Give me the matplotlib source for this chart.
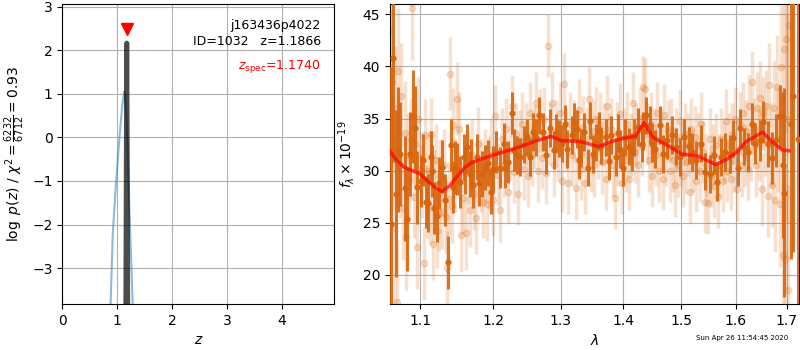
import numpy as np
import matplotlib
matplotlib.use('Agg')
import matplotlib.pyplot as plt

# Left panel: redshift fit
z_chi2 = [0.87, 0.919, 0.98, 1.04, 1.085, 1.11, 1.13, 1.15, 1.17, 1.20, 1.222, 1.26, 1.29]
logp_chi2 = [-4.2, -2.19, -1.01, 0.0, 0.64, 0.92, 1.06, 0.95, 0.4, -0.8, -1.66, -3.0, -4.2]
z_pz = [1.155, 1.165, 1.174, 1.183, 1.193]
logp_pz = [-4.5, -0.5, 2.17, -0.5, -4.5]
z_spec = 1.1740
z_mark_y = 2.5

# Right panel: spectrum, light (unbinned) points
wave_lo = [1.062, 1.064, 1.066, 1.068, 1.070, 1.072, 1.074, 1.076, 1.078, 1.080,
           1.082, 1.084, 1.086, 1.088, 1.090, 1.092, 1.094, 1.096, 1.098, 1.101,
           1.103, 1.105, 1.107, 1.109, 1.111, 1.113, 1.115, 1.117, 1.119, 1.121,
           1.123, 1.125, 1.127, 1.129, 1.132, 1.134, 1.136, 1.138, 1.140, 1.142,
           1.144, 1.146, 1.149, 1.152, 1.155, 1.158, 1.161, 1.164, 1.167, 1.170,
           1.173, 1.176, 1.179, 1.182, 1.185, 1.188, 1.191, 1.194, 1.197, 1.200,
           1.203, 1.206, 1.209, 1.212, 1.215, 1.218, 1.221, 1.224, 1.227, 1.230,
           1.233, 1.236, 1.239, 1.242, 1.245, 1.248, 1.251, 1.254, 1.257, 1.260,
           1.263, 1.266, 1.269, 1.272, 1.275, 1.278, 1.281, 1.284, 1.287, 1.290,
           1.293, 1.296, 1.299, 1.302, 1.305, 1.308, 1.311, 1.314, 1.317, 1.320,
           1.323, 1.326, 1.329, 1.332, 1.335, 1.338, 1.341, 1.344, 1.347, 1.350,
           1.353, 1.356, 1.359, 1.362, 1.365, 1.368, 1.371, 1.374, 1.377, 1.380,
           1.383, 1.386, 1.389, 1.392, 1.395, 1.398, 1.401, 1.404, 1.407, 1.410,
           1.413, 1.416, 1.419, 1.422, 1.425, 1.428, 1.431, 1.434, 1.437, 1.440,
           1.443, 1.446, 1.449, 1.452, 1.455, 1.458, 1.461, 1.464, 1.467, 1.470,
           1.473, 1.476, 1.479, 1.482, 1.485, 1.488, 1.491, 1.494, 1.497, 1.500,
           1.503, 1.506, 1.509, 1.512, 1.515, 1.518, 1.521, 1.524, 1.527, 1.530,
           1.533, 1.536, 1.539, 1.542, 1.545, 1.548, 1.551, 1.554, 1.557, 1.560,
           1.563, 1.566, 1.569, 1.572, 1.575, 1.578, 1.581, 1.584, 1.587, 1.590,
           1.593, 1.596, 1.599, 1.602, 1.605, 1.608, 1.611, 1.614, 1.617, 1.620,
           1.623, 1.626, 1.629, 1.632, 1.635, 1.638, 1.641, 1.644, 1.647, 1.650,
           1.653, 1.656, 1.659, 1.662, 1.665, 1.668, 1.671, 1.674, 1.677, 1.680,
           1.683, 1.686, 1.689, 1.692, 1.695, 1.697, 1.699, 1.701, 1.703, 1.705]
flux_lo = [43.5, 38.5, 24.5, 36.0, 17.4, 39.6, 30.5, 37.2, 26.4, 33.6,
           23.6, 31.5, 29.0, 33.0, 45.6, 27.5, 32.6, 22.7, 35.0, 30.2,
           29.0, 21.1, 33.4, 27.0, 30.0, 26.5, 33.5, 23.0, 28.5, 31.0,
           24.2, 25.8, 29.5, 26.0, 30.5, 25.6, 20.7, 27.3, 39.3, 26.6,
           34.4, 29.5, 36.9, 34.0, 23.8, 27.4, 24.0, 30.3, 26.2, 31.5,
           27.8, 25.5, 32.6, 29.5, 27.0, 30.5, 26.8, 29.8, 31.5, 27.2,
           35.2, 29.6, 26.2, 33.0, 30.5, 34.0, 28.0, 32.0, 36.2, 29.9,
           33.5, 27.8, 32.8, 34.5, 30.2, 33.5, 29.5, 35.5, 31.5, 33.2,
           36.5, 30.0, 34.8, 31.2, 35.0, 29.8, 42.0, 33.5, 36.5, 30.5,
           33.8, 32.0, 35.5, 29.0, 38.3, 33.0, 28.8, 34.5, 31.5, 33.8,
           28.3, 32.8, 35.8, 30.2, 34.2, 28.8, 33.0, 36.9, 31.0, 33.8,
           30.5, 35.0, 32.2, 34.5, 30.8, 33.5, 29.2, 36.2, 32.5, 34.0,
           30.5, 27.4, 33.6, 31.5, 35.4, 28.8, 33.0, 31.0, 34.5, 29.2,
           32.5, 36.5, 31.8, 33.5, 30.5, 35.0, 32.5, 38.0, 37.8, 33.5,
           31.0, 34.5, 29.5, 33.0, 31.5, 35.5, 30.0, 33.0, 29.2, 35.3,
           31.5, 33.8, 30.0, 34.0, 31.0, 28.6, 33.0, 30.5, 34.8, 31.5,
           29.5, 33.5, 30.8, 32.5, 28.0, 34.0, 31.0, 33.2, 29.0, 32.5,
           30.0, 34.5, 31.8, 27.0, 30.5, 26.9, 33.0, 29.5, 31.5, 28.5,
           32.5, 27.5, 30.5, 33.0, 29.0, 31.8, 34.8, 30.0, 32.5, 29.2,
           33.5, 31.0, 35.0, 28.2, 32.0, 34.5, 30.5, 35.5, 31.5, 33.8,
           30.2, 36.2, 32.0, 38.5, 34.0, 30.5, 36.0, 32.5, 37.0, 28.2,
           35.5, 33.0, 36.2, 27.6, 38.2, 32.5, 28.6, 36.0, 27.2, 38.0,
           33.0, 26.8, 39.9, 21.9, 41.7, 21.5, 42.6, 35.0, 18.6, 44.0]
err_lo = [8, 7, 9, 6, 6, 6, 5, 5, 5, 5,
          5, 4, 4, 4, 5, 4, 4, 4, 4, 3.5,
          3.5, 3.5, 3.5, 3.5, 3.5, 3.5, 3.5, 3.5, 3.5, 3.5,
          3.5, 3.5, 3.5, 3.5, 3.5, 3.5, 3.5, 3.5, 3.5, 3.5,
          3.5, 3.5, 3.5, 3.5, 3.5, 3.5, 3.5, 3.5, 3.5, 3.5,
          3.5, 3.5, 3.5, 3.5, 3.5, 3.5, 3.5, 3.5, 3.5, 3.5,
          3, 3, 3, 3, 3, 3, 3, 3, 3, 3,
          3, 3, 3, 3, 3, 3, 3, 3, 3, 3,
          3, 3, 3, 3, 3, 3, 3, 3, 3, 3,
          3, 3, 3, 3, 3, 3, 3, 3, 3, 3,
          3, 3, 3, 3, 3, 3, 3, 3, 3, 3,
          3, 3, 3, 3, 3, 3, 3, 3, 3, 3,
          3, 3, 3, 3, 3, 3, 3, 3, 3, 3,
          3, 3, 3, 3, 3, 3, 3, 3, 3, 3,
          3, 3, 3, 3, 3, 3, 3, 3, 3, 3,
          3, 3, 3, 3, 3, 3, 3, 3, 3, 3,
          3, 3, 3, 3, 3, 3, 3, 3, 3, 3,
          3, 3, 3, 3, 3, 3, 3, 3, 3, 3,
          3, 3, 3, 3, 3, 3, 3, 3, 3, 3,
          3, 3, 3, 3, 3, 3, 3, 3, 3, 3,
          3, 3, 3, 3, 3, 3, 3.5, 3.5, 3.5, 3.5,
          3.5, 3.5, 3.5, 4, 4, 4, 4, 4.5, 5, 5,
          5, 6, 6, 7, 8, 9, 9, 10, 10, 12]

# Right panel: dark (binned) points
wave_hi = [1.0624, 1.0649, 1.0688, 1.0713, 1.0748, 1.0803, 1.0825, 1.0868, 1.0907, 1.0934,
           1.0960, 1.1010, 1.1040, 1.1079, 1.1110, 1.1146, 1.1160, 1.1186, 1.1226, 1.1250,
           1.1294, 1.1330, 1.1376, 1.1417, 1.1440, 1.1472, 1.1500, 1.1530, 1.1583, 1.1600,
           1.1625, 1.1667, 1.1690, 1.1709, 1.1765, 1.1800, 1.1836, 1.1879, 1.1922, 1.1960,
           1.1994, 1.2040, 1.2095, 1.2153, 1.2168, 1.2210, 1.2270, 1.2300, 1.2340, 1.2388,
           1.2440, 1.2488, 1.2530, 1.2583, 1.2620, 1.2674, 1.2735, 1.2780, 1.2827, 1.2889,
           1.2930, 1.2967, 1.3020, 1.3061, 1.3103, 1.3171, 1.3203, 1.3250, 1.3282, 1.3320,
           1.3357, 1.3421, 1.3458, 1.3500, 1.3555, 1.3600, 1.3637, 1.3719, 1.3760, 1.3801,
           1.3884, 1.3920, 1.3951, 1.4000, 1.4035, 1.4102, 1.4150, 1.4187, 1.4250, 1.4307,
           1.4330, 1.4376, 1.4443, 1.4478, 1.4530, 1.4618, 1.4683, 1.4754, 1.4830, 1.4902,
           1.4973, 1.5045, 1.5131, 1.5190, 1.5263, 1.5355, 1.5429, 1.5516, 1.5591, 1.5653,
           1.5728, 1.5804, 1.5893, 1.5956, 1.6033, 1.6085, 1.6163, 1.6228, 1.6306, 1.6371,
           1.6457, 1.6523, 1.6622, 1.6702, 1.6789, 1.6858, 1.6925, 1.6945, 1.7081, 1.7128,
           1.7230]
flux_hi = [24.9, 40.8, 27.8, 32.0, 31.6, 28.3, 25.4, 31.6, 35.2, 34.1,
           28.4, 29.0, 31.0, 27.0, 26.9, 31.3, 30.0, 26.4, 25.7, 28.8,
           30.4, 27.2, 21.2, 32.5, 28.4, 30.3, 30.2, 28.9, 31.3, 30.0,
           32.3, 29.7, 30.8, 28.6, 31.3, 28.8, 29.7, 30.3, 30.7, 28.0,
           30.2, 31.8, 30.3, 32.6, 30.3, 30.8, 35.5, 32.0, 31.5, 31.3,
           32.5, 33.2, 31.3, 33.7, 33.2, 35.3, 33.7, 31.5, 34.1, 32.0,
           33.6, 33.1, 32.6, 34.5, 32.1, 33.4, 34.7, 34.0, 31.0, 32.2,
           33.7, 30.3, 34.8, 31.6, 32.7, 33.8, 32.4, 33.2, 30.9, 33.4,
           31.3, 33.6, 32.1, 30.3, 33.2, 32.3, 31.8, 33.2, 34.2, 32.6,
           33.8, 35.3, 34.4, 32.6, 32.1, 34.4, 31.6, 32.9, 33.4, 32.3,
           31.3, 33.2, 32.4, 31.8, 31.0, 32.6, 29.9, 29.7, 31.5, 28.9,
           31.3, 31.8, 31.6, 33.1, 30.3, 34.1, 32.3, 31.8, 34.5, 32.6,
           32.9, 34.7, 32.6, 31.2, 32.9, 35.2, 30.5, 27.9, 34.5, 37.2,
           33.0]
err_hi = [15, 10, 8, 6, 5, 5, 5, 4, 4.5, 4,
          3.5, 2.5, 2.5, 2.5, 2.8, 2.5, 2.5, 2.5, 2.5, 2.5,
          2.5, 2.5, 2.5, 2.5, 2.5, 2.5, 2.5, 2.5, 2.2, 2.2,
          2.2, 2.2, 2.2, 2.2, 2.2, 2.2, 2.2, 2.2, 2.2, 2.2,
          2.2, 2, 2, 2, 2, 2, 2, 2, 1.8, 1.8,
          1.8, 1.8, 1.8, 1.8, 1.8, 1.8, 1.8, 1.8, 1.8, 1.8,
          1.8, 1.8, 1.8, 1.8, 1.8, 1.8, 1.8, 1.8, 1.8, 1.8,
          1.8, 1.8, 1.8, 1.8, 1.8, 1.8, 1.8, 1.8, 1.8, 1.8,
          1.8, 1.8, 1.8, 1.8, 1.8, 1.8, 1.8, 1.8, 1.8, 1.8,
          1.8, 1.8, 1.8, 1.8, 1.8, 1.8, 1.8, 1.8, 1.8, 1.8,
          1.8, 1.8, 1.8, 1.8, 1.8, 1.8, 1.8, 1.8, 1.8, 1.8,
          1.8, 1.8, 1.8, 1.8, 1.8, 1.8, 1.8, 1.8, 2, 2,
          2, 2, 2.2, 2.5, 2.5, 3, 7, 10, 13, 15,
          20]

# Right panel: model
wave_mod = [1.060, 1.070, 1.080, 1.100, 1.110, 1.120, 1.129, 1.140, 1.150, 1.160,
            1.170, 1.200, 1.230, 1.260, 1.285, 1.300, 1.330, 1.360, 1.380, 1.400,
            1.420, 1.435, 1.450, 1.470, 1.500, 1.530, 1.562, 1.580, 1.600, 1.620,
            1.652, 1.670, 1.690, 1.705]
flux_mod = [32.0, 31.0, 30.3, 29.7, 29.0, 28.4, 28.0, 28.6, 29.5, 30.3,
            30.8, 31.5, 32.1, 32.8, 33.3, 32.9, 32.8, 32.3, 32.8, 33.1,
            33.3, 34.6, 33.2, 32.6, 31.6, 31.4, 30.6, 31.0, 31.7, 32.8,
            33.7, 32.8, 32.0, 31.9]
wave_ticks = [1.1, 1.2, 1.3, 1.4, 1.5, 1.6, 1.7]

ORANGE = '#d8650d'

fig = plt.figure(figsize=(8, 3.5), dpi=100)
ax1 = fig.add_axes([0.078, 0.131, 0.340, 0.858])
ax2 = fig.add_axes([0.4875, 0.131, 0.5115, 0.858])

# --- redshift panel
ax1.plot(z_chi2, logp_chi2, color='tab:blue', alpha=0.5, lw=1.5)
ax1.plot(z_pz, logp_pz, color='k', alpha=0.7, lw=3.5)
ax1.plot([z_spec], [z_mark_y], marker='v', color='r', ms=8, ls='none')
ax1.set_xlim(0, 4.96)
ax1.set_ylim(-3.83, 3.07)
ax1.set_xticks([0, 1, 2, 3, 4])
ax1.set_yticks([-3, -2, -1, 0, 1, 2, 3])
ax1.grid()
ax1.set_xlabel(r'$z$')
ax1.set_ylabel(r'$\log\ p(z)$ / $\chi^2=\frac{6232}{6712}=0.93$')
ax1.text(0.95, 0.95, 'j163436p4022\nID=1032   z=1.1866', transform=ax1.transAxes,
         ha='right', va='top', fontsize=9, linespacing=1.3)
ax1.text(0.95, 0.82, r'$z_\mathrm{spec}$=1.1740', transform=ax1.transAxes,
         ha='right', va='top', fontsize=9, color='r')

# --- spectrum panel
ax2.errorbar(wave_lo, flux_lo, err_lo, color=ORANGE, alpha=0.2, marker='o',
             ms=4.5, ls='none', elinewidth=2.5, zorder=2)
ax2.errorbar(wave_hi, flux_hi, err_hi, color=ORANGE, alpha=0.9, marker='o',
             ms=3.5, ls='none', elinewidth=2.2, zorder=3)
ax2.plot(wave_mod, flux_mod, color='r', alpha=0.7, lw=2.5, zorder=4)
ax2.set_xscale('log')
ax2.set_xlim(1.0615, 1.725)
ax2.set_ylim(17.2, 46.0)
ax2.set_xticks(wave_ticks)
ax2.set_xticklabels([f'{w:.1f}' for w in wave_ticks])
ax2.xaxis.set_minor_locator(matplotlib.ticker.NullLocator())
ax2.set_yticks([20, 25, 30, 35, 40, 45])
ax2.grid()
ax2.set_xlabel(r'$\lambda$')
ax2.set_ylabel(r'$f_\lambda\times10^{-19}$')

fig.text(0.985, 0.025, 'Sun Apr 26 11:54:45 2020', ha='right', va='bottom', fontsize=5)

plt.savefig('out.png')
